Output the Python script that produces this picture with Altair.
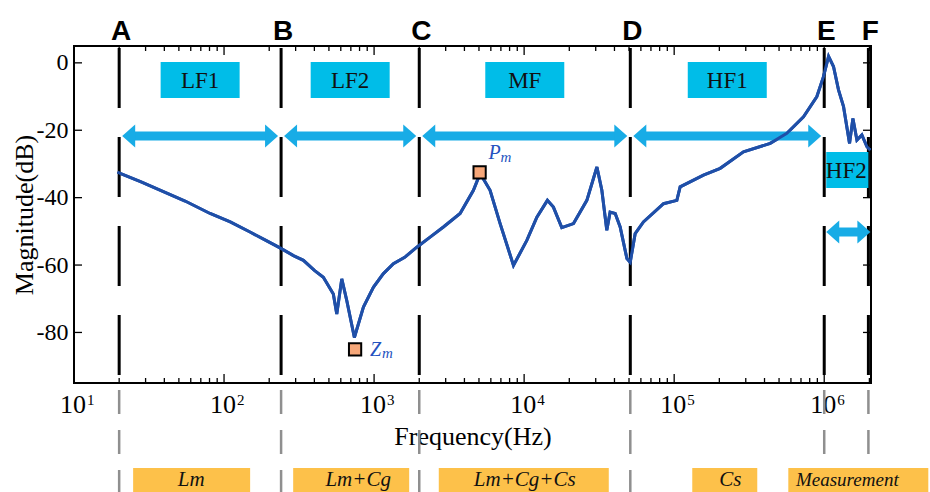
import math
import altair as alt
import pandas as pd

# ------------------------------------------------------------------ data
freq_hz = [19.5, 20.3, 28, 37.4, 55, 80.7, 110, 149, 190, 236, 290, 338, 400, 459,
           535, 564, 609, 658, 739, 849, 989, 1150, 1345, 1600, 1926, 2362, 2897,
           3743, 4592, 5093, 5929, 6918, 8491, 10420, 12160, 14290, 15670, 17820,
           21330, 26180, 30550, 32960, 35560, 37410, 40450, 43650, 48420, 50930,
           54950, 62370, 84920, 104200, 109600, 156700, 202700, 289700, 436500,
           563600, 727800, 893400, 988600, 1069000, 1153000, 1245000, 1345000,
           1475000, 1553000, 1652000, 1782000, 1926000, 2027000]
magnitude_db = [-32.4, -32.8, -35.3, -37.8, -41.0, -44.7, -47.2, -50.2, -52.7, -54.9,
                -57.2, -58.6, -61.6, -63.6, -68.6, -74.5, -64.1, -70.6, -81.5, -72.5,
                -66.6, -62.6, -59.6, -57.7, -54.7, -51.7, -48.7, -44.7, -37.8, -32.8,
                -37.8, -47.7, -60.1, -52.7, -45.8, -40.8, -42.8, -48.9, -47.7, -40.8,
                -30.9, -37.8, -49.7, -44.3, -44.7, -48.7, -58.1, -59.2, -50.7, -47.2,
                -41.8, -40.8, -36.8, -33.3, -31.3, -26.4, -23.9, -20.9, -16.0, -10.0,
                -4.1, 1.9, -1.1, -8.0, -13.0, -23.9, -16.5, -22.9, -21.4, -24.9, -25.9]

boundary_names = ["A", "B", "C", "D", "E", "F"]
boundary_hz = [20, 240, 2000, 51000, 1.0e6, 1.97e6]

band_names = ["LF1", "LF2", "MF", "HF1", "HF2"]
circuit_names = ["Lm", "Lm+Cg", "Lm+Cg+Cs", "Cs", "Measurement"]

peak_names = ["P", "Z"]
peak_sub = ["m", "m"]
peak_hz = [5050, 747]
peak_db = [-32.5, -85.0]

x_tick_hz = [10, 100, 1000, 10000, 100000, 1000000]
x_tick_base = ["10", "10", "10", "10", "10", "10"]
x_tick_exp = ["1", "2", "3", "4", "5", "6"]
y_tick_db = [0, -20, -40, -60, -80]

# ------------------------------------------------------------------ styling
W, H = 797, 337
SERIF = "Liberation Serif"
SANS = "Liberation Sans"
CURVE = "#1F4FA8"
BOX_BLUE = "#00BDE8"
ARROW = "#18ACE6"
ORANGE = "#FDC14A"
MARK_FILL = "#F6A779"
LABEL_BLUE = "#2452C0"

xscale = alt.Scale(type="log", domain=[10, 2.05e6], nice=False)
yscale = alt.Scale(domain=[-95, 5], nice=False, zero=False)

xaxis = alt.Axis(values=x_tick_hz, labels=False, title="Frequency(Hz)",
                 titleY=61, titleBaseline="alphabetic")
yaxis = alt.Axis(values=y_tick_db, labelExpr="'' + datum.value", title="Magnitude(dB)", labelPadding=6,
                 titleX=-63, titleY=H / 2, titleBaseline="top")


def X(field):
    return alt.X(f"{field}:Q", scale=xscale, axis=xaxis)


def X2(field):
    return alt.X2(f"{field}:Q")


def Y(field):
    return alt.Y(f"{field}:Q", scale=yscale, axis=yaxis)


curve_df = pd.DataFrame({"hz": freq_hz, "db": magnitude_db})
bnd_df = pd.DataFrame({"name": boundary_names, "hz": boundary_hz})
regions = pd.DataFrame({
    "band": band_names,
    "circuit": circuit_names,
    "lo": boundary_hz[:-1],
    "hi": boundary_hz[1:],
})
regions["mid"] = [math.sqrt(a * b) for a, b in zip(regions["lo"], regions["hi"])]
peaks_df = pd.DataFrame({"name": peak_names, "sub": peak_sub, "hz": peak_hz, "db": peak_db})
xlab_df = pd.DataFrame({"hz": x_tick_hz, "base": x_tick_base, "exp": x_tick_exp})

layers = []

# measured curve (first, owns the axes)
layers.append(alt.Chart(curve_df).mark_line(color=CURVE, strokeWidth=3, clip=True).encode(
    x=X("hz"), y=Y("db"), order="hz:Q"))

# x tick labels 10^n
layers.append(alt.Chart(xlab_df).mark_text(font=SERIF, fontSize=26, color="black", align="right",
                                           baseline="alphabetic", dx=12).encode(
    x=X("hz"), y=alt.value(H + 30), text="base:N"))
layers.append(alt.Chart(xlab_df).mark_text(font=SERIF, fontSize=15, color="black", align="left",
                                           baseline="alphabetic", dx=13).encode(
    x=X("hz"), y=alt.value(H + 22), text="exp:N"))

# vertical dashed boundary lines (inside plot and below the axis)
layers.append(alt.Chart(bnd_df).mark_rule(color="black", strokeWidth=3, strokeDash=[60, 29]).encode(
    x=X("hz"), y=alt.value(2), y2=alt.value(H)))
layers.append(alt.Chart(bnd_df).mark_rule(color="#8f8f8f", strokeWidth=2.5, strokeDash=[24, 16]).encode(
    x=X("hz"), y=alt.value(344), y2=alt.value(452)))

# top band boxes
top = regions.iloc[:4]
layers.append(alt.Chart(top).mark_rect(color=BOX_BLUE, xOffset=-39.5, x2Offset=39.5).encode(
    x=X("mid"), x2=X2("mid"), y=alt.value(16), y2=alt.value(52)))
layers.append(alt.Chart(top).mark_text(font=SERIF, fontSize=23, color="#111111", baseline="middle",
                                       align="center", dy=1).encode(
    x=X("mid"), y=alt.value(34), text="band:N"))

# HF2 box
hf2 = regions.iloc[4:5]
layers.append(alt.Chart(hf2).mark_rect(color=BOX_BLUE, xOffset=2).encode(
    x=X("lo"), x2=X2("hi"), y=alt.value(106), y2=alt.value(142)))


def arrow_layers(df, ypix, lo_off, hi_off):
    head_l = "M0,0L1,-0.885L1,0.885Z"
    head_r = "M0,0L-1,-0.885L-1,0.885Z"
    return [
        alt.Chart(df).mark_rule(color=ARROW, strokeWidth=9, xOffset=lo_off + 7,
                                x2Offset=hi_off - 7).encode(
            x=X("lo"), x2=X2("hi"), y=alt.value(ypix)),
        alt.Chart(df).mark_point(shape=head_l, filled=True, size=676, color=ARROW, opacity=1,
                                 xOffset=lo_off).encode(x=X("lo"), y=alt.value(ypix)),
        alt.Chart(df).mark_point(shape=head_r, filled=True, size=676, color=ARROW, opacity=1,
                                 xOffset=hi_off).encode(x=X("hi"), y=alt.value(ypix)),
    ]


layers += arrow_layers(top, 90, 3, -3)
layers += arrow_layers(hf2, 186, 2, 2)

# curve again on top of the arrows
layers.append(alt.Chart(curve_df).mark_line(color=CURVE, strokeWidth=3, clip=True).encode(
    x=X("hz"), y=Y("db"), order="hz:Q"))

# HF2 label
layers.append(alt.Chart(hf2).mark_text(font=SERIF, fontSize=23, color="#111111", baseline="middle",
                                       align="center").encode(
    x=X("mid"), y=alt.value(125), text="band:N"))

# Pm / Zm markers
layers.append(alt.Chart(peaks_df).mark_square(size=150, fill=MARK_FILL, stroke="black", strokeWidth=2,
                                              opacity=1).encode(x=X("hz"), y=Y("db")))
p_df = peaks_df.iloc[0:1]
z_df = peaks_df.iloc[1:2]
for df, dx, dy, sdx, sdy in [(p_df, 9, -13, 21, -10), (z_df, 15, 7, 27, 9)]:
    layers.append(alt.Chart(df).mark_text(font=SERIF, fontStyle="italic", fontSize=20, color=LABEL_BLUE,
                                          align="left", baseline="alphabetic", dx=dx, dy=dy).encode(
        x=X("hz"), y=Y("db"), text="name:N"))
    layers.append(alt.Chart(df).mark_text(font=SERIF, fontStyle="italic", fontSize=15, color=LABEL_BLUE,
                                          align="left", baseline="alphabetic", dx=sdx, dy=sdy).encode(
        x=X("hz"), y=Y("db"), text="sub:N"))

# A..F letters
layers.append(alt.Chart(bnd_df).mark_text(font=SANS, fontWeight="bold", fontSize=28, color="black",
                                          align="center", baseline="alphabetic", dx=2).encode(
    x=X("hz"), y=alt.value(-6), text="name:N"))

# bottom orange circuit boxes (left/right pixel extents, text shift, font size)
bottom_style = [(-67, 50, -9, 21), (-57, 59, 8, 21), (-86, 84, 0, 21), (-35, 30, 3, 21), (-58, 82, 1, 19)]
for i, (l, r, tdx, fs) in enumerate(bottom_style):
    row = regions.iloc[i:i + 1]
    layers.append(alt.Chart(row).mark_rect(color=ORANGE, xOffset=l, x2Offset=r).encode(
        x=X("mid"), x2=X2("mid"), y=alt.value(422), y2=alt.value(460)))
    layers.append(alt.Chart(row).mark_text(font=SERIF, fontStyle="italic", fontSize=fs, color="#111111",
                                           align="center", baseline="alphabetic", dx=tdx).encode(
        x=X("mid"), y=alt.value(440), text="circuit:N"))

# inward ticks
minor_hz = [k * d for d in x_tick_hz for k in range(2, 10) if k * d <= 2.05e6]
maj_df = pd.DataFrame({"hz": x_tick_hz})
min_df = pd.DataFrame({"hz": minor_hz})
ytk_df = pd.DataFrame({"db": y_tick_db})
tk = dict(color="black", strokeWidth=1.3)
layers += [
    alt.Chart(maj_df).mark_rule(**tk).encode(x=X("hz"), y=alt.value(H), y2=alt.value(H - 9)),
    alt.Chart(min_df).mark_rule(**tk).encode(x=X("hz"), y=alt.value(H), y2=alt.value(H - 5)),
    alt.Chart(maj_df).mark_rule(**tk).encode(x=X("hz"), y=alt.value(0), y2=alt.value(9)),
    alt.Chart(min_df).mark_rule(**tk).encode(x=X("hz"), y=alt.value(0), y2=alt.value(5)),
    alt.Chart(ytk_df).mark_rule(**tk).encode(y=Y("db"), x=alt.value(0), x2=alt.value(8)),
    alt.Chart(ytk_df).mark_rule(**tk).encode(y=Y("db"), x=alt.value(W), x2=alt.value(W - 8)),
]

chart = alt.layer(*layers).properties(
    width=W, height=H,
    autosize=alt.AutoSizeParams(type="none"),
    padding={"left": 74, "top": 46, "right": 59, "bottom": 109},
    background="white",
).configure_view(stroke="black", strokeWidth=2).configure_axis(
    grid=False, domain=False, ticks=False, tickSize=0,
    labelFont=SERIF, labelFontSize=24, labelColor="black",
    titleFont=SERIF, titleFontSize=26, titleFontWeight="normal", titleColor="black",
)

chart.save("out.html", embed_options={"renderer": "svg", "actions": False})
